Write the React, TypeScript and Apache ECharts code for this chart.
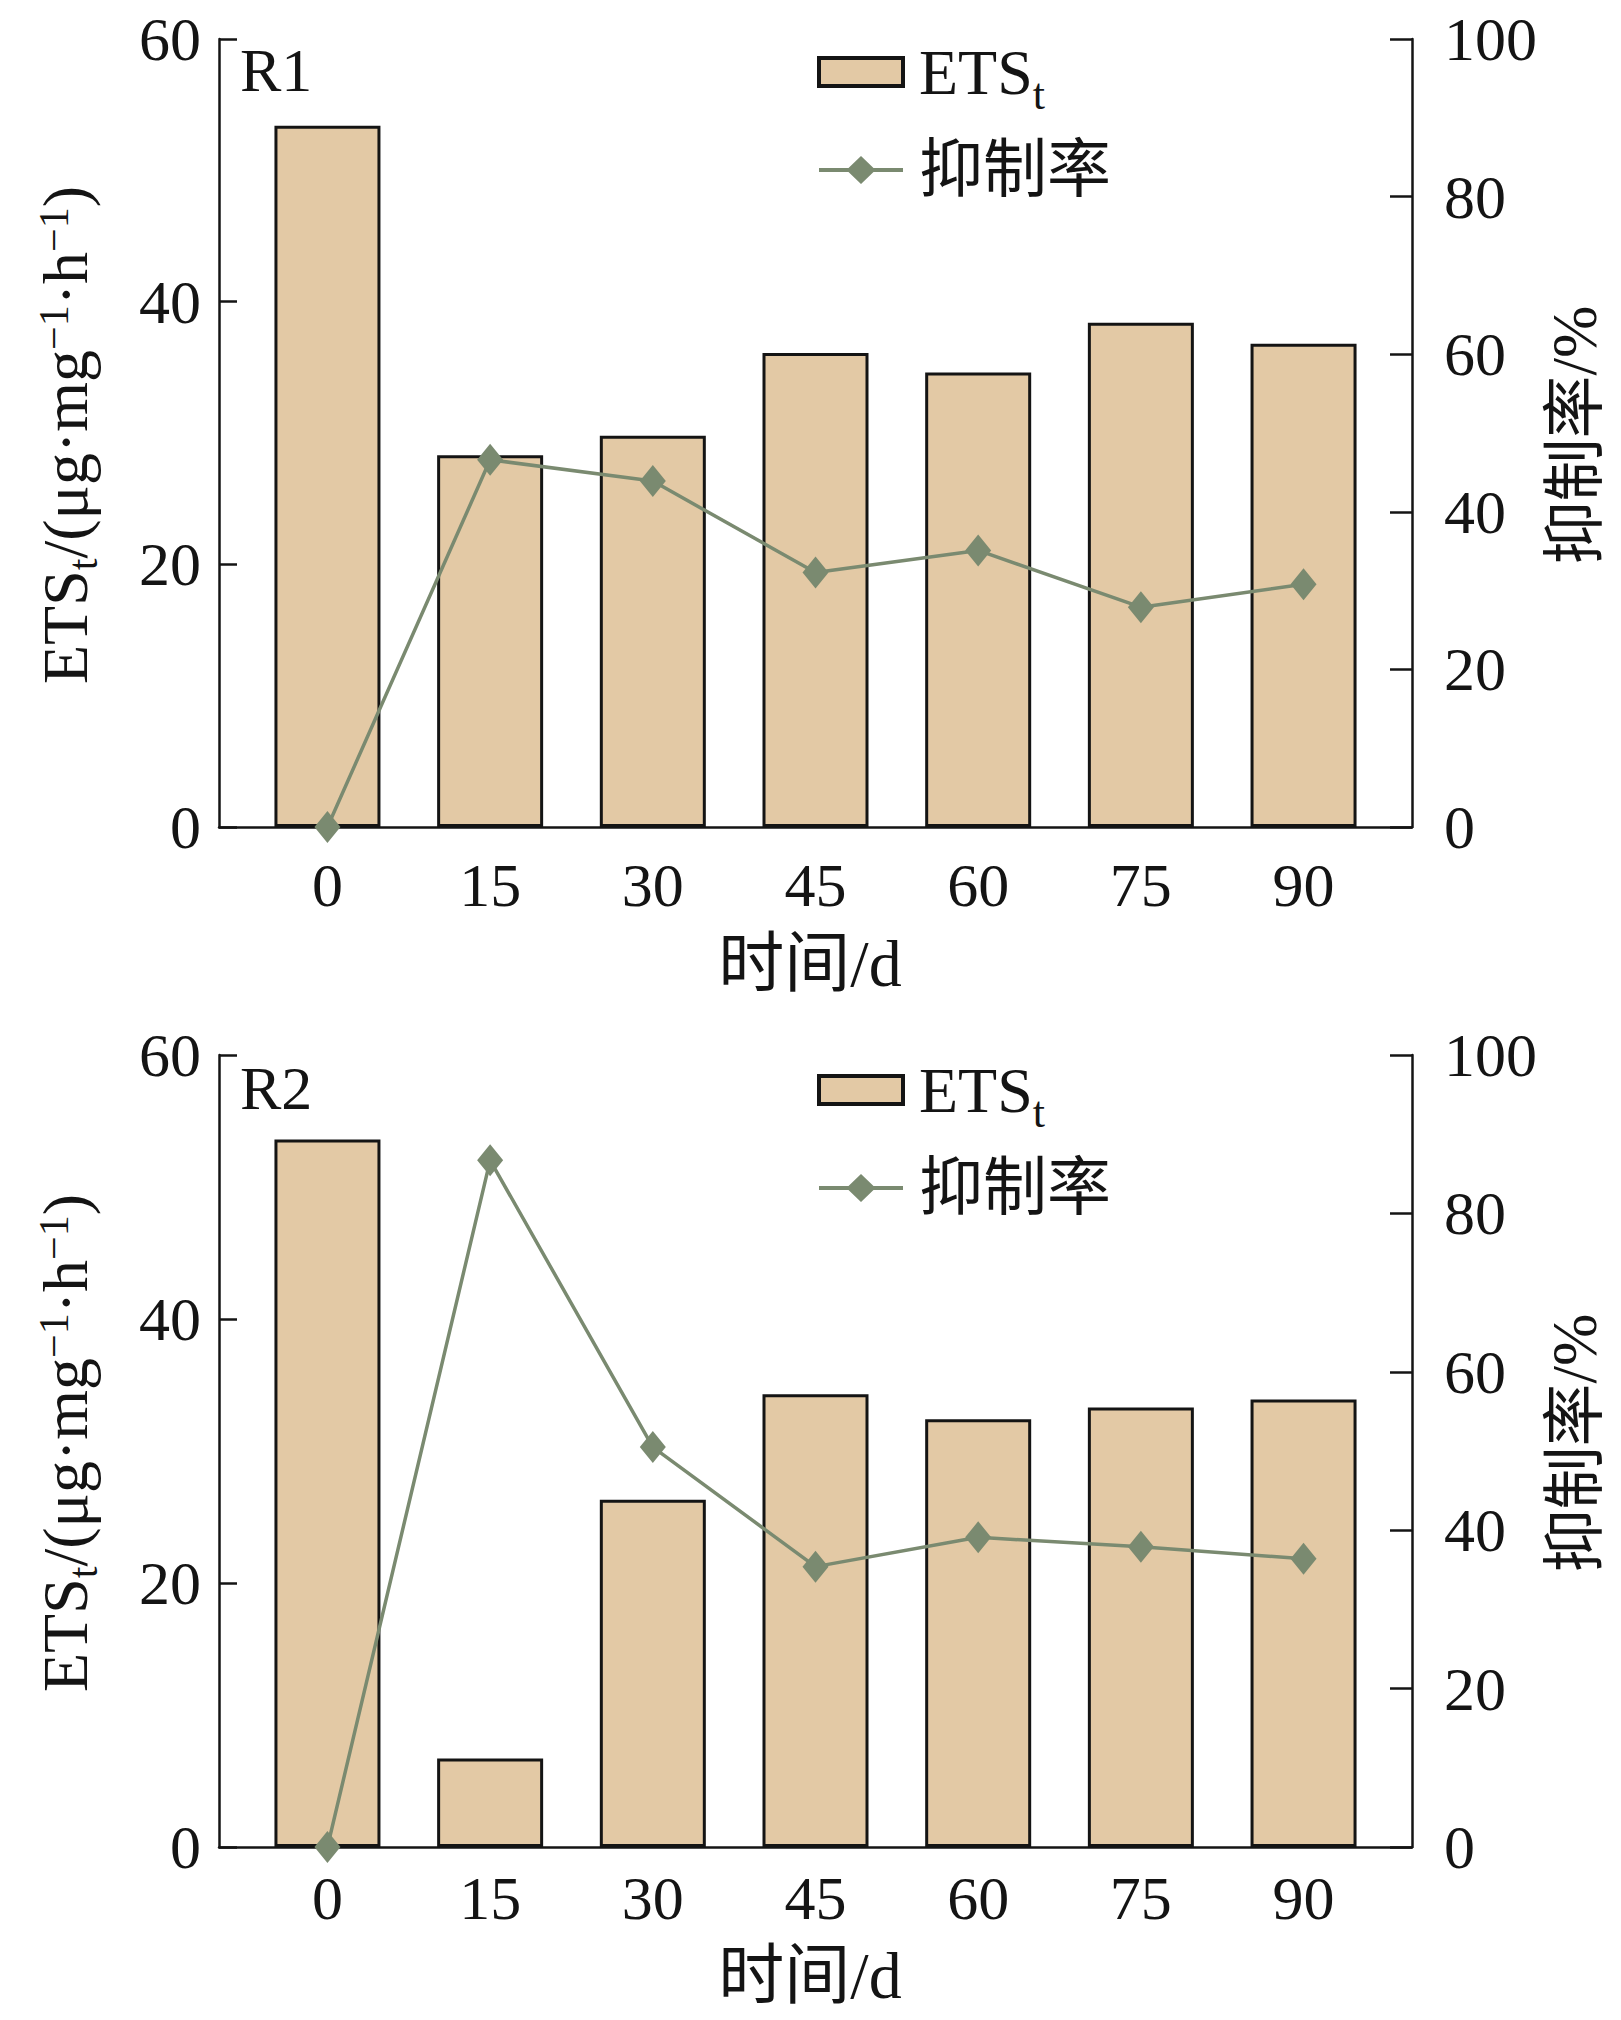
import React, { useEffect, useRef } from "react";
import * as echarts from "echarts";

const days = [0, 15, 30, 45, 60, 75, 90];
const etsR1 = [53.4, 28.3, 29.8, 36.1, 34.6, 38.4, 36.8];
const rateR1 = [0, 46.6, 43.9, 32.3, 35.1, 27.9, 30.8];
const etsR2 = [53.6, 6.7, 26.3, 34.3, 32.4, 33.3, 33.9];
const rateR2 = [0, 86.7, 50.5, 35.4, 39.1, 37.9, 36.4];
const panelLabels = ["R1", "R2"];
const seriesNames = ["ETSt", "抑制率"];

const FONT = "'Liberation Serif', 'Times New Roman', 'Noto Sans CJK SC', serif";
const BLACK = "#141414";
const BAR = "#E3C9A5";
const LINE = "#7A8A70";
const LINE_ICON =
  "path://M0,12L29.5,12L42,0L54.5,12L84,12L84,16L54.5,16L42,28L29.5,16L0,16Z";

export default function App() {
  const ref = useRef<HTMLDivElement>(null);
  useEffect(() => {
    if (!ref.current) return;
    const chart = echarts.init(ref.current, null, { renderer: "svg" });
    const grids = [
      { left: 211, width: 1193, top: 26, height: 793 },
      { left: 211, width: 1193, top: 1047, height: 792 },
    ];
    const labelMargins = [27, 20];
    const xAxes: any[] = [];
    const yAxes: any[] = [];
    const series: any[] = [];
    const legends: any[] = [];
    const graphics: any[] = [];
    const ets = [etsR1, etsR2];
    const rate = [rateR1, rateR2];
    const legendTops = [15, 1033];
    const legendGaps = [22, 22];
    const nameY = [427, 1435];
    const xNameY = [955, 1967];
    const panelY = [62, 1080];

    grids.forEach((g, i) => {
      xAxes.push({
        type: "value",
        gridIndex: i,
        min: -10,
        max: 100,
        axisLine: { show: true, onZero: false, lineStyle: { color: BLACK, width: 2.5 } },
        axisTick: { show: false },
        splitLine: { show: false },
        axisLabel: {
          customValues: days,
          margin: labelMargins[i],
          fontSize: 62,
          color: BLACK,
          fontFamily: FONT,
        },
      });
      yAxes.push({
        type: "value",
        gridIndex: i,
        position: "left",
        min: 0,
        max: 60,
        interval: 20,
        axisLine: { show: true, onZero: false, lineStyle: { color: BLACK, width: 2.5 } },
        axisTick: { show: true, inside: true, length: 18, lineStyle: { color: BLACK, width: 2.5 } },
        axisLabel: { margin: 18, fontSize: 62, lineHeight: 54, color: BLACK, fontFamily: FONT },
        splitLine: { show: false },
      });
      yAxes.push({
        type: "value",
        gridIndex: i,
        position: "right",
        min: 0,
        max: 100,
        interval: 20,
        axisLine: { show: true, onZero: false, lineStyle: { color: BLACK, width: 2.5 } },
        axisTick: { show: true, inside: true, length: 22, lineStyle: { color: BLACK, width: 2.5 } },
        axisLabel: { margin: 32, fontSize: 62, lineHeight: 54, color: BLACK, fontFamily: FONT },
        splitLine: { show: false },
      });
      series.push({
        type: "bar",
        name: seriesNames[0],
        xAxisIndex: i,
        yAxisIndex: i * 2,
        data: days.map((d, k) => [d, ets[i][k]]),
        barWidth: 106,
        itemStyle: { color: BAR, borderColor: BLACK, borderWidth: 3 },
        z: 2,
      });
      series.push({
        type: "line",
        name: seriesNames[1],
        xAxisIndex: i,
        yAxisIndex: i * 2 + 1,
        data: days.map((d, k) => [d, rate[i][k]]),
        symbol: "diamond",
        symbolSize: [26, 32],
        itemStyle: { color: LINE },
        lineStyle: { color: LINE, width: 3.5 },
        z: 3,
      });
      legends.push({
        orient: "vertical",
        left: 804,
        top: legendTops[i],
        itemWidth: 84,
        itemHeight: 28,
        itemGap: legendGaps[i],
        selectedMode: false,
        data: [
          {
            name: seriesNames[0],
            icon: "rect",
            itemStyle: { color: BAR, borderColor: BLACK, borderWidth: 4 },
          },
          { name: seriesNames[1], icon: LINE_ICON, itemStyle: { color: LINE, borderWidth: 0 } },
        ],
        formatter: (name: string) =>
          name === "ETSt" ? "{a|ETS}{s|t}" : "{c|" + name + "}",
        textStyle: {
          color: BLACK,
          fontFamily: FONT,
          rich: {
            a: { fontSize: 64, lineHeight: 66, fontFamily: FONT, color: BLACK, padding: [0, 0, 0, 11] },
            s: { fontSize: 44, lineHeight: 20, fontFamily: FONT, color: BLACK, padding: [44, 0, 0, 0] },
            c: { fontSize: 64, lineHeight: 66, fontFamily: FONT, color: BLACK, padding: [0, 0, 0, 11] },
          },
        },
      });
      graphics.push({
        type: "text",
        x: 232,
        y: panelY[i],
        style: {
          text: panelLabels[i],
          font: "62px " + FONT,
          fill: BLACK,
          align: "left",
          verticalAlign: "middle",
        },
      });
      graphics.push({
        type: "text",
        x: 57,
        y: nameY[i],
        rotation: Math.PI / 2,
        style: {
          text: "{n|ETS}{sub|t}{n|/(μg·mg}{sup|−1}{n|·h}{sup|−1}{n|)}",
          align: "center",
          verticalAlign: "middle",
          fill: BLACK,
          rich: {
            n: { fontSize: 64, lineHeight: 72, fontFamily: FONT, fill: BLACK },
            sub: { fontSize: 42, lineHeight: 20, fontFamily: FONT, fill: BLACK, padding: [36, 0, 0, 0] },
            sup: { fontSize: 42, lineHeight: 20, fontFamily: FONT, fill: BLACK, padding: [0, 0, 22, 0] },
          },
        },
      });
      graphics.push({
        type: "text",
        x: 1567,
        y: nameY[i],
        rotation: Math.PI / 2,
        style: {
          text: "抑制率/%",
          font: "63px " + FONT,
          fill: BLACK,
          align: "center",
          verticalAlign: "middle",
        },
      });
      graphics.push({
        type: "text",
        x: 802,
        y: xNameY[i],
        style: {
          text: "时间/d",
          font: "66px " + FONT,
          fill: BLACK,
          align: "center",
          verticalAlign: "middle",
        },
      });
    });

    chart.setOption({
      animation: false,
      backgroundColor: "#ffffff",
      grid: grids,
      xAxis: xAxes,
      yAxis: yAxes,
      legend: legends,
      series,
      graphic: graphics,
    });
    return () => chart.dispose();
  }, []);
  return <div ref={ref} style={{ width: 1605, height: 2004 }} />;
}
